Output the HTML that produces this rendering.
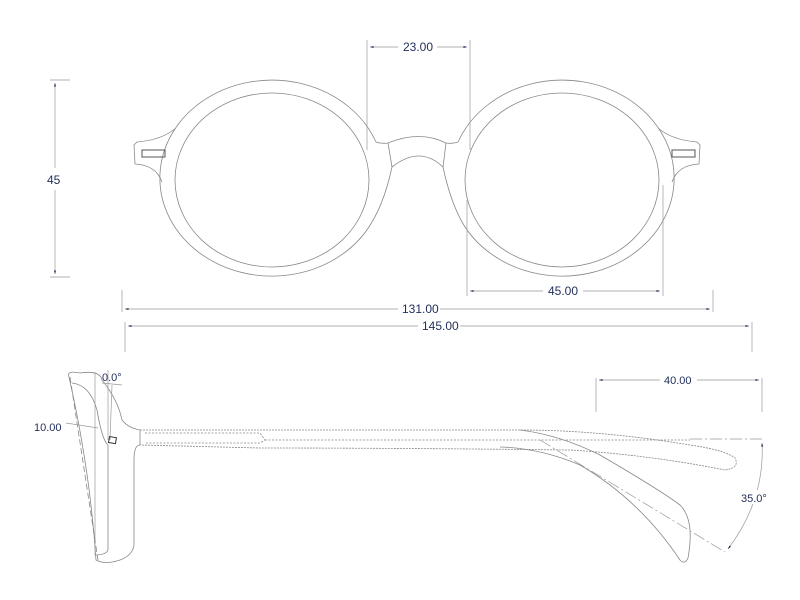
<!DOCTYPE html>
<html><head><meta charset="utf-8"><style>
body{margin:0;background:#fff;width:800px;height:600px;overflow:hidden}
svg{display:block}
text{font-family:"Liberation Sans",sans-serif;font-size:12px;fill:#1f2d5a}
.l{fill:none;stroke:#888;stroke-width:0.8}
.d{fill:none;stroke:#999;stroke-width:0.7}
.a{fill:#1f2d5a}
</style></head><body>
<svg width="800" height="600" viewBox="0 0 800 600">
<defs><marker id="m" viewBox="0 0 10 10" refX="10" refY="5" markerWidth="7" markerHeight="5" orient="auto-start-reverse"><path d="M0,2 L10,5 L0,8 z" class="a"/></marker></defs>
<!-- front view -->
<path class="l" d="M376,142 A112,98 0 1 0 372,222"/>
<path class="l" d="M458,142 A112,98 0 1 1 462,222"/>
<ellipse class="l" cx="272" cy="180" rx="97" ry="87"/>
<ellipse class="l" cx="562" cy="180" rx="97" ry="87"/>
<path class="l" d="M176,128 Q162,140 137,142 L134,145 L135,164 Q156,165 162,182"/>
<rect x="142" y="150" width="23" height="7" fill="none" stroke="#555" stroke-width="1"/>
<path class="l" d="M658,128 Q672,140 697,142 L700,145 L699,164 Q678,165 672,182"/>
<rect x="672" y="150" width="23" height="7" fill="none" stroke="#555" stroke-width="1"/>
<path class="l" d="M376,142 Q382,144 388,143 Q420,130 446,143 Q452,144 458,142"/>
<path class="l" d="M388,143 L392,167 Q420,145 443,167 L446,143"/>
<path class="l" d="M392,167 Q385,200 372,222 M443,167 Q450,200 462,222"/>
<!-- dims -->
<line class="d" x1="367" y1="40" x2="367" y2="150"/><line class="d" x1="470" y1="40" x2="470" y2="150"/>
<line class="d" x1="370" y1="47" x2="398" y2="47" marker-start="url(#m)"/><line class="d" x1="437" y1="47" x2="467" y2="47" marker-end="url(#m)"/>
<text x="403" y="51">23.00</text>
<line class="d" x1="50" y1="80" x2="70" y2="80"/><line class="d" x1="50" y1="277" x2="70" y2="277"/>
<line class="d" x1="55" y1="83" x2="55" y2="168" marker-start="url(#m)"/><line class="d" x1="55" y1="190" x2="55" y2="274" marker-end="url(#m)"/>
<text x="47" y="184">45</text>
<line class="d" x1="467" y1="200" x2="467" y2="296"/><line class="d" x1="663" y1="185" x2="663" y2="296"/>
<line class="d" x1="470" y1="291" x2="543" y2="291" marker-start="url(#m)"/><line class="d" x1="583" y1="291" x2="660" y2="291" marker-end="url(#m)"/>
<text x="548" y="295">45.00</text>
<line class="d" x1="122" y1="290" x2="122" y2="312"/><line class="d" x1="713" y1="290" x2="713" y2="312"/>
<line class="d" x1="125" y1="309" x2="398" y2="309" marker-start="url(#m)"/><line class="d" x1="440" y1="309" x2="710" y2="309" marker-end="url(#m)"/>
<text x="402" y="313">131.00</text>
<line class="d" x1="125" y1="322" x2="125" y2="352"/><line class="d" x1="752" y1="322" x2="752" y2="352"/>
<line class="d" x1="128" y1="326" x2="418" y2="326" marker-start="url(#m)"/><line class="d" x1="460" y1="326" x2="749" y2="326" marker-end="url(#m)"/>
<text x="422" y="330">145.00</text>
<!-- side view -->
<path class="l" d="M69,377 Q66,370 80,373 Q100,370 102,380 Q118,400 122,420 Q128,428 140,430 L140,445 Q134,445 134,460 L134,545 Q133,555 120,560 Q105,565 96,560 Q90,470 69,377 z"/>
<path class="l" d="M72,383 Q90,385 97,410 Q102,440 108,445 L108,550 Q106,555 95,555"/>
<path class="l" d="M70,377 L98,560" stroke-dasharray="6 3"/>
<line class="d" x1="95" y1="372" x2="95" y2="555"/>
<line class="d" x1="108" y1="370" x2="108" y2="440"/>
<line class="d" x1="112" y1="385" x2="110" y2="440"/>
<rect x="109" y="437" width="7" height="6" fill="none" stroke="#333" stroke-width="1" transform="rotate(10 112 440)"/>
<line class="d" x1="66" y1="423" x2="98" y2="428"/>
<text x="34" y="431" style="font-size:11px">10.00</text>
<text x="102" y="381" style="font-size:11px">0.0°</text>
<line class="d" x1="102" y1="383" x2="122" y2="385"/>
<path class="l" d="M140,430 L520,430 Q600,430 690,445 Q725,450 735,458 Q740,468 725,470 Q650,455 570,450 Q400,448 260,448 L140,445" stroke-dasharray="2 1"/>
<path class="l" d="M145,433 L260,433 L265,440 L260,443 L145,443 M265,440 L690,440" stroke-dasharray="2 1.5"/>
<path class="l" d="M520,430 Q560,435 600,455 Q660,490 680,505 Q695,520 688,558 Q685,565 680,560 Q640,500 580,465 Q540,448 500,447"/>
<line class="d" x1="540" y1="440" x2="725" y2="552" stroke-dasharray="12 3 2 3"/>
<line class="d" x1="690" y1="439" x2="762" y2="439" stroke-dasharray="12 3 2 3"/>
<line class="d" x1="596" y1="378" x2="596" y2="412"/><line class="d" x1="762" y1="378" x2="762" y2="412"/>
<line class="d" x1="599" y1="380" x2="660" y2="380" marker-start="url(#m)"/><line class="d" x1="697" y1="380" x2="759" y2="380" marker-end="url(#m)"/>
<text x="664" y="384" style="font-size:11px">40.00</text>
<path class="d" d="M762,443 Q765,500 728,549" marker-start="url(#m)" marker-end="url(#m)"/>
<rect x="738" y="490" width="30" height="14" fill="#fff"/>
<text x="741" y="502" style="font-size:11px">35.0°</text>
</svg>
</body></html>
